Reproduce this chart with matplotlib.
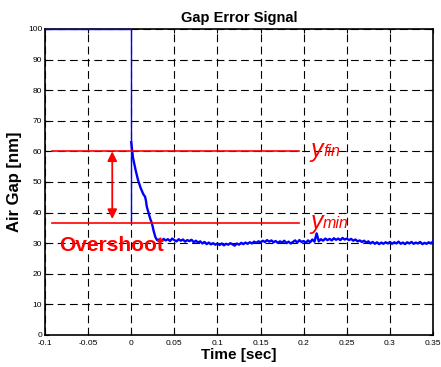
import numpy as np
import matplotlib.pyplot as plt

plt.rcParams['font.family'] = ['Liberation Sans', 'DejaVu Sans']

# señal antes y en el instante del escalón (recortada en 100)
t_pre = [-0.1, 0.0, 0.0]
y_pre = [100, 100, 36.5]

# caída rápida tras el escalón
t_decay = [0.0, 0.002, 0.005, 0.008, 0.011, 0.014, 0.016, 0.017, 0.018, 0.020,
           0.022, 0.024, 0.026, 0.028, 0.030]
y_decay = [63, 58, 54, 50.5, 48, 46, 45.2, 44.0, 42.0, 40.0,
           38.0, 36.5, 34.0, 32.0, 31.0]

# zona estacionaria con ruido
t_noise = np.linspace(0.0325, 0.35, 128)
y_noise = [31.2, 30.6, 31.4, 30.9, 31.3, 30.7, 31.5, 31.0, 30.6, 31.3, 30.8, 31.2, 30.5, 31.0,
           30.7, 31.1, 30.3, 30.8, 30.2, 30.6, 29.9, 30.4, 29.7, 30.2, 29.6, 30.0, 29.5, 29.9,
           29.4, 29.9, 29.3, 29.8, 29.5, 30.0, 29.6, 29.2, 29.9, 29.5, 30.1, 29.7, 30.2, 29.8,
           30.3, 29.9, 30.5, 30.1, 30.6, 30.3,
           30.8, 30.4, 31.0, 30.5, 30.9, 30.3, 30.7, 30.1, 30.6, 30.2, 30.8, 30.0, 30.5, 29.9,
           30.4, 30.9, 30.2, 31.0, 30.4, 30.7,
           30.1, 30.9, 30.3, 31.2, 30.5, 33.2, 30.6, 31.3, 30.8, 31.5, 31.0, 31.4, 30.9, 31.6,
           31.1, 31.5, 31.0, 31.7, 31.2, 31.5,
           31.0, 31.4, 30.8, 31.2, 30.6, 30.9, 30.4, 30.8, 30.2, 30.6, 29.9, 30.4, 29.8, 30.3,
           29.7, 30.2, 29.8, 30.3, 29.9, 30.4,
           29.8, 30.3, 29.9, 30.5, 29.8, 30.2, 29.7, 30.3, 29.9, 30.4, 29.8, 30.2, 29.9, 30.4,
           29.7, 30.1, 29.8, 30.3, 29.9, 30.6]

y_fin = 60
y_min = 36.6
ref_x = [-0.092, 0.195]
arrow_x = -0.022

fig = plt.figure(figsize=(4.41, 3.67), dpi=100)
ax = fig.add_axes([0.102, 0.0872, 0.880, 0.834])

ax.plot(t_pre, y_pre, color='#0000ff', lw=1.0, clip_on=False, zorder=3)
ax.plot(list(t_decay) + list(t_noise), list(y_decay) + list(y_noise), color='#0000ff', lw=1.7, zorder=3)

ax.plot(ref_x, [y_fin, y_fin], color='red', lw=1.2, zorder=4)
ax.plot(ref_x, [y_min, y_min], color='red', lw=1.2, zorder=4)
ax.annotate('', xy=(arrow_x, y_fin), xytext=(arrow_x, y_min + 1.3),
            arrowprops=dict(arrowstyle='<|-|>', color='red', lw=1.3, mutation_scale=14,
                            shrinkA=0, shrinkB=0), zorder=5)

# etiquetas y_fin / y_min (la "y" grande, el subíndice pequeño al lado)
ax.text(0.2075, 58.2, 'y', color='red', fontsize=18, style='italic', va='baseline')
ax.text(0.2225, 58.4, 'fin', color='red', fontsize=11.5, style='italic', va='baseline')
ax.text(0.2075, 34.6, 'y', color='red', fontsize=18, style='italic', va='baseline')
ax.text(0.2225, 34.8, 'min', color='red', fontsize=11.5, style='italic', va='baseline')
ax.text(-0.0835, 29.4, 'Overshoot', color='red', fontsize=15, fontweight='bold', va='center', zorder=6)

ax.set_xlim(-0.1, 0.35)
ax.set_ylim(0, 100)
ax.set_xticks(np.arange(-0.1, 0.351, 0.05))
ax.set_xticklabels(['-0.1', '-0.05', '0', '0.05', '0.1', '0.15', '0.2', '0.25', '0.3', '0.35'])
ax.set_yticks(np.arange(0, 101, 10))
ax.tick_params(direction='in', labelsize=6, length=3, width=0.8, top=True, right=True, pad=2)
ax.tick_params(axis='x', pad=3.5)
ax.grid(True, color='black', linestyle=(0, (7, 4)), lw=0.8)
for s in ax.spines.values():
    s.set_linewidth(1.2)

ax.set_title('Gap Error Signal', fontsize=10.5, fontweight='bold', pad=5)
ax.set_xlabel('Time [sec]', fontsize=11, fontweight='bold', labelpad=1)
ax.set_ylabel('Air Gap [nm]', fontsize=12, fontweight='bold', labelpad=4)

fig.savefig('out.png', dpi=100)
